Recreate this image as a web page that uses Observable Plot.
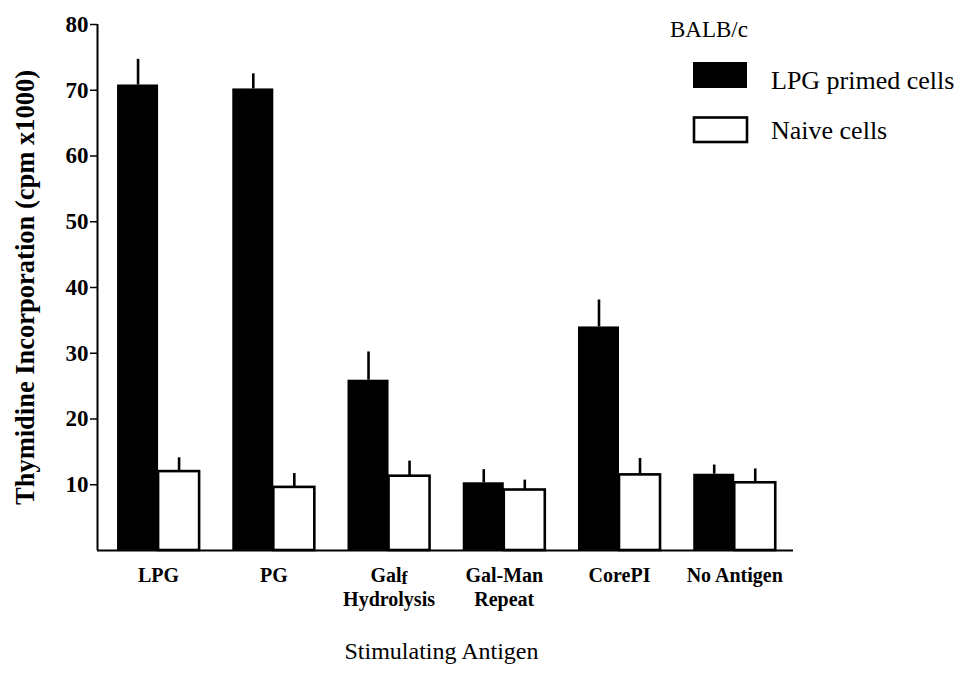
<!DOCTYPE html>
<html>
<head>
<meta charset="utf-8">
<script src="https://cdn.jsdelivr.net/npm/d3@7"></script>
<script src="https://cdn.jsdelivr.net/npm/@observablehq/plot@0.6"></script>
<style>
  html, body { margin: 0; padding: 0; background: #fff; }
  #wrap { position: relative; width: 965px; height: 677px; overflow: hidden; }
  #legend { position: absolute; left: 0; top: 0; pointer-events: none; }
  #legend text { font-family: "Liberation Serif", "Times New Roman", serif; fill: #000; }
</style>
</head>
<body>
<div id="wrap"></div>
<script>
// ---- data ----
const categories = ["LPG", "PG", "Galf Hydrolysis", "Gal-Man Repeat", "CorePI", "No Antigen"];
const tickLabels = ["LPG", "PG", "Galf\nHydrolysis", "Gal-Man\nRepeat", "CorePI", "No Antigen"];
const primedMean = [70.8, 70.2, 25.9, 10.3, 34.0, 11.6];
const primedErr  = [3.9, 2.3, 4.3, 2.0, 4.1, 1.4];
const naiveMean  = [12.0, 9.6, 11.3, 9.2, 11.5, 10.3];
const naiveErr   = [2.1, 2.1, 2.3, 1.5, 2.5, 2.1];
const yTicks = [10, 20, 30, 40, 50, 60, 70, 80];
const seriesNames = ["LPG primed cells", "Naive cells"];

// ---- build table ----
const halfW = 0.356; // width of one bar in group units
const rows = [];
categories.forEach((c, i) => {
  rows.push({cat: c, idx: i, series: seriesNames[0], mean: primedMean[i], err: primedErr[i]});
  rows.push({cat: c, idx: i, series: seriesNames[1], mean: naiveMean[i], err: naiveErr[i]});
});
const left = d => d.series === seriesNames[0] ? d.idx - halfW : d.idx;
const right = d => d.series === seriesNames[0] ? d.idx : d.idx + halfW;
const mid = d => (left(d) + right(d)) / 2;

const xDomain = [-0.53, 5.51];
const font = "Liberation Serif";

const chart = Plot.plot({
  width: 965,
  height: 677,
  marginLeft: 97,
  marginRight: 172,
  marginTop: 24,
  marginBottom: 127,
  style: {fontFamily: font, background: "#fff", color: "#000"},
  x: {type: "linear", domain: xDomain},
  y: {domain: [0, 80]},
  marks: [
    // bars
    Plot.rect(rows.filter(d => d.series === seriesNames[0]), {
      x1: left, x2: right, y1: 0, y2: "mean", fill: "#000"
    }),
    Plot.rect(rows.filter(d => d.series === seriesNames[1]), {
      x1: left, x2: right, y1: 0, y2: "mean", fill: "#fff", stroke: "#000", strokeWidth: 2.6
    }),
    // error bars (upper)
    Plot.ruleX(rows, {x: mid, y1: "mean", y2: d => d.mean + d.err, stroke: "#000", strokeWidth: 2.6}),
    // axis lines
    Plot.ruleX([xDomain[0]], {y1: 0, y2: 80, stroke: "#000", strokeWidth: 2}),
    Plot.ruleY([0], {stroke: "#000", strokeWidth: 2.2}),
    // y axis
    Plot.axisY({
      ticks: yTicks, tickSize: 7, tickPadding: 2, label: null,
      fontSize: 23, fontWeight: "bold", strokeWidth: 1.5
    }),
    // x axis tick labels
    Plot.axisX({
      ticks: d3.range(categories.length),
      tickFormat: i => tickLabels[i],
      tickSize: 0, tickPadding: 14, label: null,
      fontSize: 20, fontWeight: "bold", lineHeight: 1.22
    }),
    // axis titles
    Plot.text(["Thymidine Incorporation (cpm x1000)"], {
      frameAnchor: "left", textAnchor: "middle", rotate: -90, dx: -72, text: d => d,
      fontSize: 26.5, fontWeight: "bold", fontFamily: font
    }),
    Plot.text(["Stimulating Antigen"], {
      frameAnchor: "bottom", textAnchor: "middle", dy: 108, dx: -4, text: d => d,
      fontSize: 24, fontFamily: font
    })
  ]
});

// subscript "f" in Galf
chart.querySelectorAll("tspan, text").forEach(el => {
  if (el.childNodes.length === 1 && el.textContent === "Galf") {
    el.textContent = "Gal";
    const sub = document.createElementNS("http://www.w3.org/2000/svg", "tspan");
    sub.setAttribute("baseline-shift", "-2");
    sub.setAttribute("font-size", "18");
    sub.textContent = "f";
    el.appendChild(sub);
  }
});

const wrap = document.getElementById("wrap");
wrap.appendChild(chart);

// legend
const ns = "http://www.w3.org/2000/svg";
const leg = document.createElementNS(ns, "svg");
leg.setAttribute("id", "legend");
leg.setAttribute("width", 965);
leg.setAttribute("height", 170);
function addText(str, x, y, size) {
  const t = document.createElementNS(ns, "text");
  t.setAttribute("x", x); t.setAttribute("y", y);
  t.setAttribute("font-size", size);
  t.textContent = str;
  leg.appendChild(t);
}
function addRect(x, y, w, h, fill, stroke) {
  const r = document.createElementNS(ns, "rect");
  r.setAttribute("x", x); r.setAttribute("y", y);
  r.setAttribute("width", w); r.setAttribute("height", h);
  r.setAttribute("fill", fill);
  if (stroke) { r.setAttribute("stroke", stroke); r.setAttribute("stroke-width", 2.6); }
  leg.appendChild(r);
}
addText("BALB/c", 670, 37, 23);
addRect(693, 62, 54, 26, "#000");
addText(seriesNames[0], 771, 89, 26);
addRect(694, 117.5, 53, 24.5, "#fff", "#000");
addText(seriesNames[1], 771, 139, 26);
wrap.appendChild(leg);
</script>
</body>
</html>
